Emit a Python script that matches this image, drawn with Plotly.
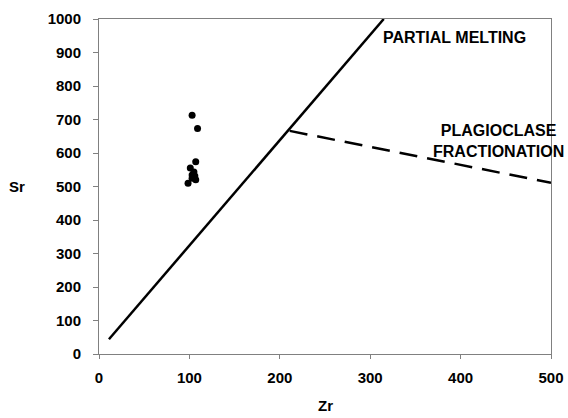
import plotly.graph_objects as go

# Sample data (Zr vs Sr)
zr = [103, 109, 107, 98.5, 103, 107, 105, 103, 106, 101]
sr = [713, 673, 574, 510, 525, 520, 543, 534, 531, 555]

# Trend lines
melt_zr = [11, 315]
melt_sr = [44, 1000]
frac_zr = [211, 500]
frac_sr = [666, 511]

x_ticks = [0, 100, 200, 300, 400, 500]
y_ticks = [0, 100, 200, 300, 400, 500, 600, 700, 800, 900, 1000]

FONT = "Liberation Sans, Arial, sans-serif"

fig = go.Figure()
fig.add_trace(go.Scatter(x=melt_zr, y=melt_sr, mode="lines",
                         line=dict(color="black", width=2.5), showlegend=False,
                         hoverinfo="skip"))
fig.add_trace(go.Scatter(x=frac_zr, y=frac_sr, mode="lines",
                         line=dict(color="black", width=2.5, dash="18px,10px"), showlegend=False,
                         hoverinfo="skip"))
fig.add_trace(go.Scatter(x=zr, y=sr, mode="markers",
                         marker=dict(color="black", size=7), showlegend=False))

fig.update_layout(
    template="none",
    width=568, height=418,
    margin=dict(l=99, r=17, t=19, b=64, pad=0),
    paper_bgcolor="white", plot_bgcolor="white",
    font=dict(family=FONT, size=15, color="black"),
    xaxis=dict(range=[0, 500], tickvals=x_ticks, ticktext=[f"<b>{v}</b>" for v in x_ticks],
               showgrid=False, zeroline=False, showline=True, linecolor="#808080",
               linewidth=1, mirror=True, ticks="outside", ticklen=4, tickcolor="#808080",
               ticklabelstandoff=6, automargin=False),
    yaxis=dict(range=[0, 1000], tickvals=y_ticks, ticktext=[f"<b>{v}</b>" for v in y_ticks],
               showgrid=False, zeroline=False, showline=True, linecolor="#808080",
               linewidth=1, mirror=True, ticks="outside", ticklen=5, tickcolor="#808080",
               ticklabelstandoff=9, automargin=False),
    annotations=[
        dict(text="<b>Zr</b>", xref="paper", yref="paper", x=0.5, y=-0.155,
             xanchor="center", yanchor="middle", showarrow=False, font=dict(size=15)),
        dict(text="<b>Sr</b>", xref="paper", yref="paper", x=-0.181, y=0.5,
             xanchor="center", yanchor="middle", showarrow=False, font=dict(size=15)),
        dict(text="<b>PARTIAL MELTING</b>", x=312, y=946, xanchor="left", yanchor="middle",
             showarrow=False, font=dict(size=16)),
        dict(text="<b>PLAGIOCLASE<br>FRACTIONATION</b>", x=442, y=636, xanchor="center",
             yanchor="middle", showarrow=False, font=dict(size=16), align="center"),
    ],
)

fig.write_html("out.html", config={"displayModeBar": False},
               post_script="document.body.style.margin='0';document.body.style.overflow='hidden';")
